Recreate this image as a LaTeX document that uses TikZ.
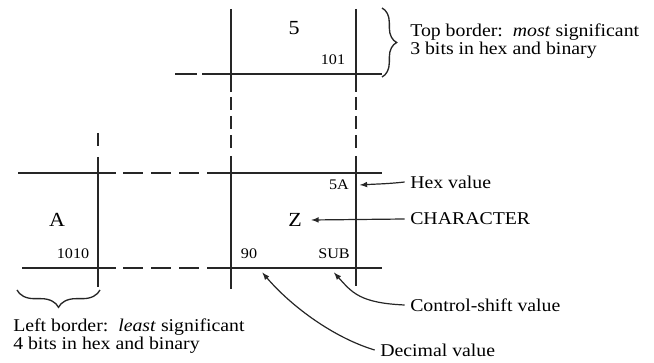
\documentclass[tikz,border=0pt]{standalone}
\usepackage{fontspec}
\setmainfont{Liberation Serif}[FakeStretch=1.1]
\usetikzlibrary{positioning,arrows,decorations.pathreplacing}
\tikzset{
  grid/.style={line width=1.1pt, draw=black!85},
  hgap/.style={grid, dash pattern=on 15pt off 6pt},
  vgap/.style={grid, dash pattern=on 9.75pt off 4.5pt},
  small/.style={font=\fontsize{11}{13}\selectfont, inner sep=0pt},
  big/.style={font=\fontsize{15}{17}\selectfont, inner sep=0pt},
  note/.style={font=\fontsize{13.5}{14}\selectfont, inner sep=0pt, align=left},
  pointer/.style={line width=0.9pt, draw=black!85, -latex},
  curly/.style={decorate, line width=1pt, draw=black!85,
    decoration={brace, amplitude=11pt}}
}

\begin{document}
\begin{tikzpicture}[x=0.75pt, y=-0.75pt]
  \useasboundingbox (0,0) rectangle (654,363);

  % columns
  \foreach \c/\e in {231/289, 356/286} {
    \draw[grid] (\c,9) -- (\c,92);
    \draw[vgap] (\c,97) -- (\c,148);
    \draw[grid] (\c,156) -- (\c,\e);
  }
  \draw[vgap] (98,133) -- (98,150);
  \draw[grid] (98,157) -- (98,287);

  % rows
  \draw[grid] (175,74) -- (197,74);
  \draw[grid] (202,74) -- (382,74);
  \foreach \r/\s in {173/18, 268/22} {
    \draw[grid] (\s,\r) -- (116,\r);
    \draw[hgap] (123,\r) -- (200,\r);
    \draw[grid] (207,\r) -- (382,\r);
  }

  % table entries
  \node[big] (five) at (294,28) {5};
  \node[small] (topbits) at (333,60) {101};
  \node[big] (letA) at (57,220) {A};
  \node[small] (leftbits) at (73,254) {1010};
  \node[big] (charZ) at (295,220) {Z};
  \node[small] (hexval) at (339,185) {5A};
  \node[small] (decval) at (249,254) {90};
  \node[small] (ctlval) at (334,254) {SUB};

  % explanations
  \node[note, anchor=west] (topnote) at (410,41)
    {Top border:\ \ \textit{most} significant\\3 bits in hex and binary};
  \node[note, anchor=west] (leftnote) at (13,336)
    {Left border:\ \ \textit{least} significant\\4 bits in hex and binary};
  \node[note, anchor=west] (hexnote) at (410,182) {Hex value};
  \node[note, anchor=west] (charnote) at (410,219) {CHARACTER};
  \node[note, anchor=west] (ctlnote) at (410,305) {Control-shift value};
  \node[note, anchor=west] (decnote) at (380,350) {Decimal value};

  % braces
  \coordinate (topA) at (382,8);
  \coordinate (topB) at (382,77);
  \draw[curly] (topA) -- (topB);
  \coordinate (leftA) at (17,290);
  \coordinate (leftB) at (100,290);
  \draw[curly, decoration={mirror, amplitude=13pt}] (leftA) -- (leftB);

  % pointers
  \draw[pointer] ([xshift=-4pt]hexnote.west)
    .. controls +(-18,2) and +(16,-1) .. ([xshift=8pt]hexval.east);
  \draw[pointer] ([xshift=-4pt]charnote.west) -- ([xshift=7pt]charZ.east);
  \draw[pointer] ([xshift=-4pt]ctlnote.west)
    .. controls +(-45,-2) and +(18,20) .. ([yshift=-10pt]ctlval.south);
  \draw[pointer] ([xshift=-4pt]decnote.west)
    .. controls +(-40,-12) and +(30,35) .. ([shift={(10pt,-10pt)}]decval.south);
\end{tikzpicture}
\end{document}
